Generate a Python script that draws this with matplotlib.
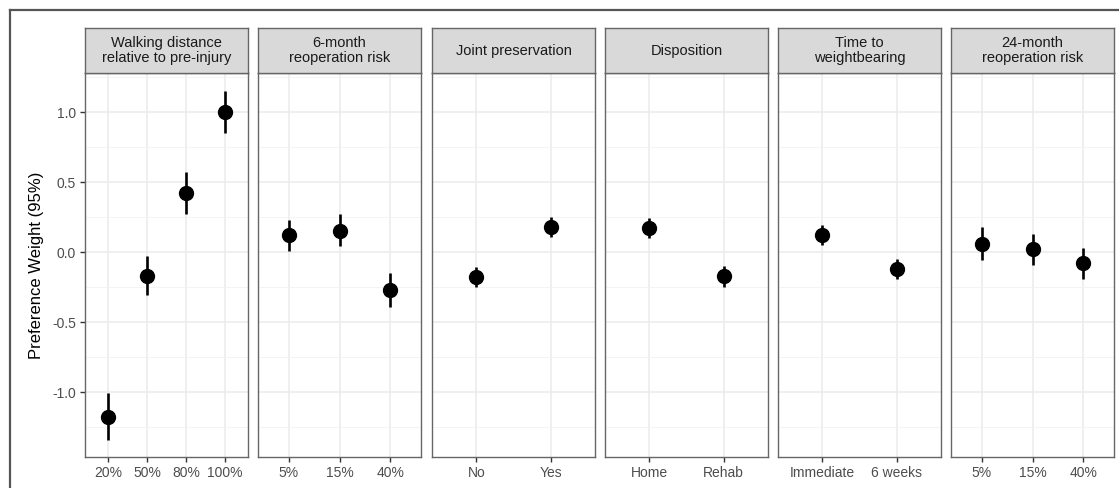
import matplotlib.pyplot as plt
from matplotlib.lines import Line2D
from matplotlib.ticker import MultipleLocator

plt.rcParams["font.family"] = ["Liberation Sans", "DejaVu Sans"]

# attribute panels
panel_titles = [
    "Walking distance\nrelative to pre-injury",
    "6-month\nreoperation risk",
    "Joint preservation",
    "Disposition",
    "Time to\nweightbearing",
    "24-month\nreoperation risk",
]

walk_levels = ["20%", "50%", "80%", "100%"]
walk_est = [-1.18, -0.17, 0.42, 1.00]
walk_lo = [-1.34, -0.31, 0.27, 0.85]
walk_hi = [-1.01, -0.03, 0.57, 1.15]

reop6_levels = ["5%", "15%", "40%"]
reop6_est = [0.12, 0.15, -0.27]
reop6_lo = [0.01, 0.04, -0.39]
reop6_hi = [0.23, 0.27, -0.15]

joint_levels = ["No", "Yes"]
joint_est = [-0.18, 0.18]
joint_lo = [-0.25, 0.11]
joint_hi = [-0.11, 0.25]

dispo_levels = ["Home", "Rehab"]
dispo_est = [0.17, -0.17]
dispo_lo = [0.10, -0.25]
dispo_hi = [0.24, -0.10]

wb_levels = ["Immediate", "6 weeks"]
wb_est = [0.12, -0.12]
wb_lo = [0.05, -0.19]
wb_hi = [0.19, -0.05]

reop24_levels = ["5%", "15%", "40%"]
reop24_est = [0.06, 0.02, -0.08]
reop24_lo = [-0.06, -0.09, -0.19]
reop24_hi = [0.18, 0.13, 0.03]

panels = [
    (walk_levels, walk_est, walk_lo, walk_hi),
    (reop6_levels, reop6_est, reop6_lo, reop6_hi),
    (joint_levels, joint_est, joint_lo, joint_hi),
    (dispo_levels, dispo_est, dispo_lo, dispo_hi),
    (wb_levels, wb_est, wb_lo, wb_hi),
    (reop24_levels, reop24_est, reop24_lo, reop24_hi),
]

W, H = 1119, 488
fig = plt.figure(figsize=(W / 100, H / 100), dpi=100)

lefts = [85, 258, 432, 605, 778, 951]
pw = 163
p_top, p_bot = 73, 457
s_top = 28

border = "#666666"

for i, (levels, est, lo, hi) in enumerate(panels):
    x0 = lefts[i]
    ax = fig.add_axes([x0 / W, (H - p_bot) / H, pw / W, (p_bot - p_top) / H])
    n = len(levels)
    xs = list(range(1, n + 1))
    ax.vlines(xs, lo, hi, color="black", lw=1.9, zorder=3)
    ax.plot(xs, est, "o", color="black", ms=10, zorder=4)
    ax.set_xlim(0.4, n + 0.6)
    ax.set_ylim(-1.464, 1.279)
    ax.set_xticks(xs)
    ax.set_xticklabels(levels)
    ax.yaxis.set_major_locator(MultipleLocator(0.5))
    ax.yaxis.set_minor_locator(MultipleLocator(0.25))
    ax.grid(which="major", color="#ebebeb", lw=1.1)
    ax.grid(which="minor", axis="y", color="#f2f2f2", lw=0.6)
    ax.set_axisbelow(True)
    for sp in ax.spines.values():
        sp.set_color(border)
        sp.set_linewidth(1.0)
    ax.tick_params(axis="x", length=3.5, width=1.0, color="#333333",
                   labelsize=10, labelcolor="#4d4d4d", pad=3)
    ax.tick_params(axis="y", which="minor", length=0)
    if i == 0:
        ax.tick_params(axis="y", length=3.5, width=1.0, color="#333333",
                       labelsize=10, labelcolor="#4d4d4d", pad=3)
        ax.set_yticklabels([f"{v:.1f}" for v in ax.get_yticks()])
        ax.set_ylabel("Preference Weight (95%)", fontsize=12, labelpad=6)
    else:
        ax.tick_params(axis="y", length=0, labelleft=False)

    sax = fig.add_axes([x0 / W, (H - p_top) / H, pw / W, (p_top - s_top) / H])
    sax.set_facecolor("#d9d9d9")
    sax.set_xticks([])
    sax.set_yticks([])
    for sp in sax.spines.values():
        sp.set_color(border)
        sp.set_linewidth(1.0)
    sax.text(0.5, 0.5, panel_titles[i], ha="center", va="center",
             fontsize=10.5, color="#1a1a1a", linespacing=1.05,
             transform=sax.transAxes)

# outer frame (top and left edges)
fy = 1 - 10 / H
fx = 10 / W
fig.add_artist(Line2D([fx, 1], [fy, fy], color="#555555", lw=1.6,
                      transform=fig.transFigure))
fig.add_artist(Line2D([fx, fx], [0, fy], color="#555555", lw=1.6,
                      transform=fig.transFigure))

fig.savefig("out.png", dpi=100)
